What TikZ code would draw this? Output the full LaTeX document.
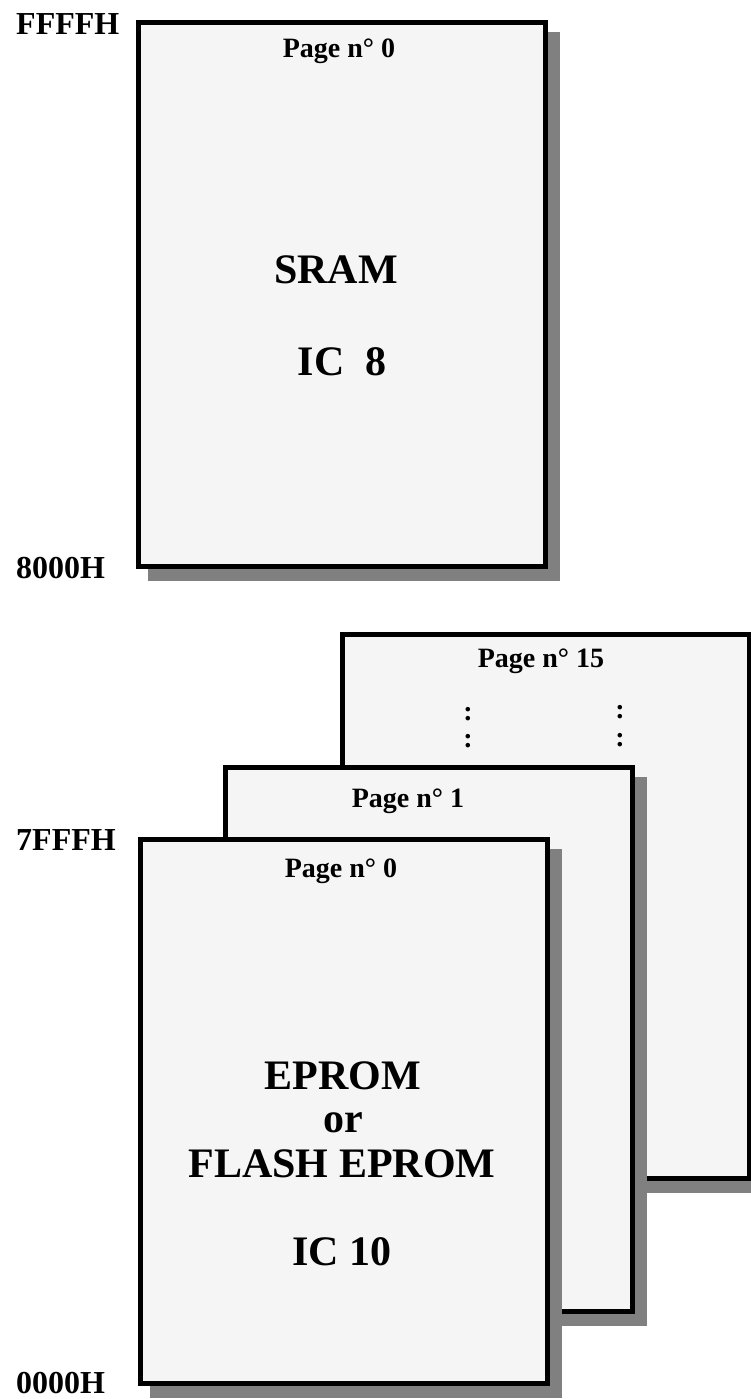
\documentclass[tikz,border=0pt]{standalone}
\usepackage{fontspec}
\setmainfont{Liberation Serif}
\usepackage{tikz}
\usetikzlibrary{
  positioning,
  shadows
}
\definecolor{memFill}{HTML}{F5F5F5}
\definecolor{memShadow}{HTML}{808080}
\tikzset{
  membox/.style={
    draw, line width=5pt, fill=memFill, outer sep=0pt, inner sep=0pt,
    minimum width=407pt, minimum height=544pt, anchor=north west,
    drop shadow={shadow xshift=12pt, shadow yshift=-12pt,
      fill=memShadow, draw=memShadow, line width=5pt, opacity=1}
  },
  addrlbl/.style={anchor=base west, inner sep=0pt, font=\fontsize{32}{36}\selectfont\bfseries},
  pagelbl/.style={anchor=base, inner sep=0pt, font=\fontsize{28}{32}\selectfont\bfseries},
  chiplbl/.style={anchor=base, inner sep=0pt, font=\fontsize{42}{48}\selectfont\bfseries},
  dotlbl/.style={inner sep=0pt, font=\fontsize{28}{32}\selectfont\bfseries}
}
\begin{document}
\begin{tikzpicture}[x=1pt, y=-1pt]
  \useasboundingbox (0,0) rectangle (751,1399);
  % SRAM, upper half
  \node[membox] (sram) at (138.5,22.5) {};
  \node[pagelbl] (sramPage) at (339,58) {Page n° 0};
  \node[chiplbl] (sramName) at (336,283) {SRAM};
  \node[chiplbl] (sramIC) at (342,375) {IC\ \ 8};
  % EPROM pages, lower half
  \node[membox] (page15) at (342.5,634.5) {};
  \node[pagelbl] (page15Lbl) at (541,667) {Page n° 15};
  \node[dotlbl] (dotsL1) at (468,714) {:};
  \node[dotlbl] (dotsL2) at (468,741) {:};
  \node[dotlbl] (dotsR1) at (620,712) {:};
  \node[dotlbl] (dotsR2) at (620,740) {:};
  \node[membox] (page1) at (225.5,767.5) {};
  \node[pagelbl] (page1Lbl) at (408,807) {Page n° 1};
  \node[membox] (page0) at (140.5,839.5) {};
  \node[pagelbl] (page0Lbl) at (341,877) {Page n° 0};
  \node[chiplbl] (epromName) at (343,1089) {EPROM};
  \node[chiplbl] (epromOr) at (343,1132) {or};
  \node[chiplbl] (epromFlash) at (342,1177) {FLASH EPROM};
  \node[chiplbl] (epromIC) at (342,1265) {IC 10};
  % address labels
  \foreach \addr/\y in {FFFFH/35, 8000H/578, 7FFFH/850, 0000H/1393}
    \node[addrlbl] (a\addr) at (16,\y) {\addr};
\end{tikzpicture}
\end{document}
